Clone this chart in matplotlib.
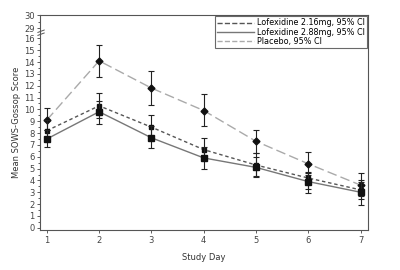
import numpy as np
import matplotlib
matplotlib.use("Agg")
import matplotlib.pyplot as plt

plt.rcParams['font.family'] = ['Liberation Sans Narrow', 'DejaVu Sans']

days = [1, 2, 3, 4, 5, 6, 7]

lofex216 = [8.2, 10.3, 8.5, 6.6, 5.3, 4.2, 3.2]
lofex216_lo = [7.3, 9.3, 7.6, 5.8, 4.4, 3.3, 2.4]
lofex216_hi = [9.1, 11.4, 9.5, 7.6, 6.3, 4.7, 4.0]

lofex288 = [7.5, 9.8, 7.6, 5.9, 5.1, 3.9, 3.0]
lofex288_lo = [6.8, 8.8, 6.7, 5.0, 4.3, 2.9, 1.9]
lofex288_hi = [8.3, 10.7, 8.6, 6.8, 6.0, 4.6, 3.9]

placebo = [9.1, 14.1, 11.8, 9.9, 7.3, 5.4, 3.6]
placebo_lo = [8.3, 12.7, 10.4, 8.6, 6.3, 4.5, 2.7]
placebo_hi = [10.1, 15.4, 13.2, 11.3, 8.3, 6.4, 4.6]

ytick_pos = list(range(17)) + [16.87, 17.96]
ytick_lab = [str(i) for i in range(17)] + ['29', '30']


def err(mean, lo, hi):
    m = np.array(mean)
    return [m - np.array(lo), np.array(hi) - m]


def main():
    fig = plt.figure(figsize=(4, 2.7), dpi=100)
    ax = fig.add_axes([0.1, 0.148, 0.82, 0.796])

    ax.errorbar(days, placebo, yerr=err(placebo, placebo_lo, placebo_hi),
                color='#aaaaaa', ls=(0, (7, 3)), lw=1.0, marker='D', ms=3.5,
                mfc='#111111', mec='#111111', ecolor='#222222', elinewidth=0.8,
                capsize=2, capthick=0.8, label='Placebo, 95% CI', zorder=2)
    ax.errorbar(days, lofex216, yerr=err(lofex216, lofex216_lo, lofex216_hi),
                color='#555555', ls=(0, (2.5, 2)), lw=1.0, marker='s', ms=3.2,
                mfc='#111111', mec='#111111', ecolor='#222222', elinewidth=0.8,
                capsize=2, capthick=0.8, label='Lofexidine 2.16mg, 95% CI',
                zorder=3)
    ax.errorbar(days, lofex288, yerr=err(lofex288, lofex288_lo, lofex288_hi),
                color='#777777', ls='-', lw=1.0, marker='s', ms=4.5,
                mfc='#111111', mec='#111111', ecolor='#222222', elinewidth=0.8,
                capsize=2, capthick=0.8, label='Lofexidine 2.88mg, 95% CI',
                zorder=4)

    ax.set_xlim(0.87, 7.14)
    ax.set_ylim(-0.19, 17.96)
    ax.set_xticks(days)
    ax.set_yticks(ytick_pos)
    ax.set_yticklabels(ytick_lab)
    ax.set_yticks(list(np.arange(0.5, 16, 1.0)) + [17.4], minor=True)
    ax.tick_params(axis='both', labelsize=6, length=2.5, width=0.6,
                   colors='#444444', pad=1.5)
    ax.tick_params(axis='y', which='minor', length=1.5, width=0.6,
                   colors='#444444')
    for s in ax.spines.values():
        s.set_color('#555555')
        s.set_linewidth(0.8)

    # axis break mark
    for dy in (16.35, 16.6):
        ax.plot([0.83, 0.95], [dy - 0.1, dy + 0.1], color='#555555', lw=0.7,
                clip_on=False, zorder=5)

    ax.set_xlabel('Study Day', fontsize=6, color='#333333', labelpad=6)
    ax.set_ylabel('Mean SOWS-Gossop Score', fontsize=6, color='#333333',
                  labelpad=2)

    handles, labels = ax.get_legend_handles_labels()
    order = [1, 2, 0]
    hl = []
    for h in handles:
        line = h[0]
        l2 = plt.Line2D([], [], color=line.get_color(), ls=line.get_linestyle(),
                        lw=1.0)
        hl.append(l2)
    leg = ax.legend([hl[i] for i in order], [labels[i] for i in order],
                    loc='upper right', fontsize=5.8, frameon=True,
                    fancybox=False, edgecolor='#444444', handlelength=4.5,
                    borderaxespad=0.15, labelspacing=0.05, borderpad=0.25,
                    handletextpad=0.4)
    leg.get_frame().set_linewidth(0.8)

    fig.savefig('out.png', dpi=100)


if __name__ == "__main__":
    main()
